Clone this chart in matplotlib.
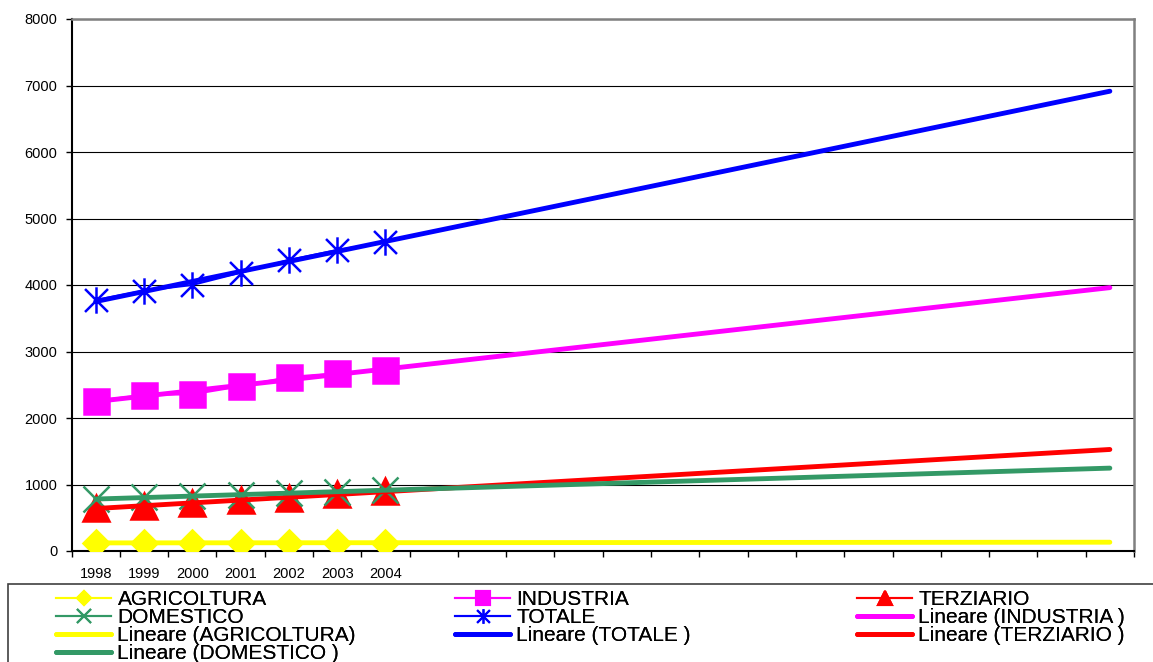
import numpy as np
import matplotlib
matplotlib.use("Agg")
import matplotlib.pyplot as plt
from matplotlib.lines import Line2D
from matplotlib.path import Path
from matplotlib.patches import Rectangle

plt.rcParams['font.family'] = ['Liberation Sans', 'DejaVu Sans']

# consumi per settore, 1998-2004
anni = ['1998', '1999', '2000', '2001', '2002', '2003', '2004']
agricoltura = [122, 122, 123, 123, 124, 124, 125]
industria = [2260, 2346, 2356, 2476, 2617, 2672, 2717]
terziario = [642, 677, 729, 767, 792, 855, 897]
domestico = [777, 812, 827, 842, 867, 892, 917]
totale = [3774, 3915, 4000, 4185, 4376, 4526, 4647]

n_periodi = 22  # 7 anni + previsione della tendenza

# asterisco stile Excel: X con barra verticale
asterisco = Path([(-1, -1), (1, 1), (-1, 1), (1, -1), (0, -1.15), (0, 1.15)],
                 [Path.MOVETO, Path.LINETO, Path.MOVETO, Path.LINETO,
                  Path.MOVETO, Path.LINETO])

serie = [
    ('AGRICOLTURA', agricoltura, '#FFFF00', 'D', 13, 7.6),
    ('INDUSTRIA', industria, '#FF00FF', 's', 18, 9.4),
    ('TERZIARIO', terziario, '#FF0000', '^', 19, 9.4),
    ('DOMESTICO', domestico, '#339966', 'x', 19, 10.5),
    ('TOTALE', totale, '#0000FF', asterisco, 19, 10.5),
]

fig = plt.figure(figsize=(11.53, 6.62), dpi=100)
ax = fig.add_axes([71.5 / 1153, 111 / 662, (1134 - 71.5) / 1153, 532 / 662])

x = np.arange(len(anni))
xx = np.arange(n_periodi)

for nome, vals, col, mk, ms, _ in serie:
    ax.plot(x, vals, color=col, lw=1.5, marker=mk, ms=ms,
            mfc=col, mec=col, mew=1.8, zorder=3)

# linee di tendenza lineari
tendenze = {}
for nome, vals, col, mk, ms, _ in serie:
    m, q = np.polyfit(x, vals, 1)
    tendenze[nome] = (m, q)
for nome in ['AGRICOLTURA', 'TOTALE', 'INDUSTRIA', 'TERZIARIO', 'DOMESTICO']:
    col = [s[2] for s in serie if s[0] == nome][0]
    m, q = tendenze[nome]
    ax.plot(xx, m * xx + q, color=col, lw=3.5, solid_capstyle='round', zorder=4)

ax.set_xlim(-0.5, n_periodi - 0.5)
ax.set_ylim(0, 8000)
ax.set_yticks(np.arange(0, 8001, 1000))
ax.yaxis.grid(True, color='black', lw=0.8)
ax.set_axisbelow(True)

ax.set_xticks(np.arange(n_periodi + 1) - 0.5)
ax.set_xticklabels([])
ax.set_xticks(x, minor=True)
ax.set_xticklabels(anni, minor=True)
ax.tick_params(axis='x', which='major', direction='out', length=4, width=1)
ax.tick_params(axis='x', which='minor', length=0, pad=11.5, labelsize=10.5)
ax.tick_params(axis='y', direction='out', length=4, width=1, pad=6, labelsize=10.5)

for s in ['left', 'bottom']:
    ax.spines[s].set_color('black')
    ax.spines[s].set_linewidth(1.5)
for s in ['top', 'right']:
    ax.spines[s].set_color('#808080')
    ax.spines[s].set_linewidth(1.8)

# riquadro della legenda
fig.add_artist(Rectangle((8 / 1153, -0.1), 1.1, (662 - 584) / 662 + 0.1,
                         transform=fig.transFigure, fill=False,
                         ec='#404040', lw=1.2, clip_on=False))

h = {}
for nome, vals, col, mk, ms, ms_leg in serie:
    h[nome] = Line2D([], [], color=col, lw=1.5, marker=mk, ms=ms_leg,
                     mfc=col, mec=col, mew=1.5)
    h['Lineare ' + nome] = Line2D([], [], color=col, lw=3.5,
                                  solid_capstyle='round')

colonne = [
    (56, [('AGRICOLTURA', 'AGRICOLTURA'), ('DOMESTICO', 'DOMESTICO'),
          ('Lineare AGRICOLTURA', 'Lineare (AGRICOLTURA)'),
          ('Lineare DOMESTICO', 'Lineare (DOMESTICO )')]),
    (455, [('INDUSTRIA', 'INDUSTRIA'), ('TOTALE', 'TOTALE'),
           ('Lineare TOTALE', 'Lineare (TOTALE )')]),
    (857, [('TERZIARIO', 'TERZIARIO'),
           ('Lineare INDUSTRIA', 'Lineare (INDUSTRIA )'),
           ('Lineare TERZIARIO', 'Lineare (TERZIARIO )')]),
]
for xpx, voci in colonne:
    leg = fig.legend([h[k] for k, _ in voci], [t for _, t in voci],
                     loc='upper left', bbox_to_anchor=(xpx / 1153, (662 - 590) / 662),
                     frameon=False, fontsize=15, borderpad=0, borderaxespad=0,
                     handlelength=2.65, handletextpad=0.3, labelspacing=-0.05)
    fig.add_artist(leg)

fig.savefig('out.png', dpi=100)
